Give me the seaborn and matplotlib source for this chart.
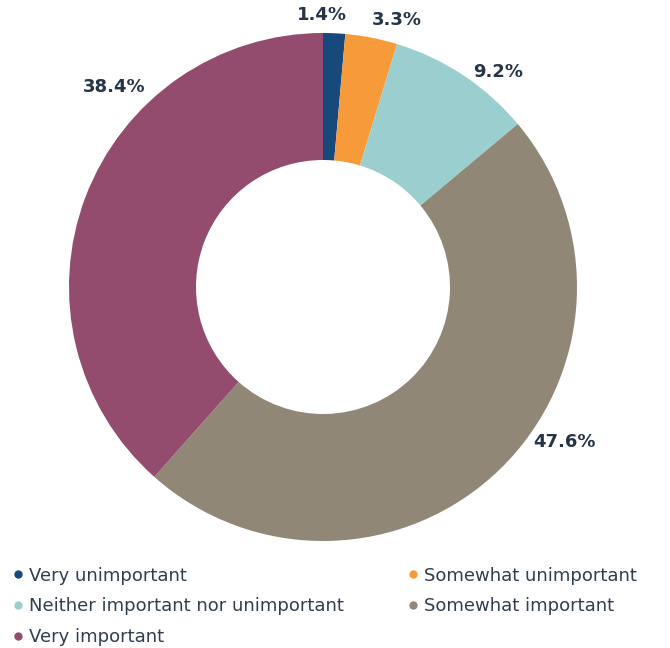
import matplotlib
matplotlib.use("Agg")
import matplotlib.pyplot as plt
from matplotlib.lines import Line2D
import numpy as np
import seaborn as sns

# Survey response shares (%)
categories = ["Very unimportant", "Somewhat unimportant",
              "Neither important nor unimportant", "Somewhat important",
              "Very important"]
shares = [1.4, 3.3, 9.2, 47.6, 38.4]
colors = ["#17497c", "#f79a3a", "#9bcfcf", "#918777", "#934c6e"]

# Label placement around the ring: (angle offset from wedge middle in degrees, radius)
label_nudge = [(2.7, 1.07), (-4.5, 1.09), (-5.6, 1.09), (13.2, 1.13), (-23.0, 1.14)]

sns.set_theme(style="white")
plt.rcParams["font.family"] = ["DejaVu Sans"]
text_color = "#253447"

fig = plt.figure(figsize=(6.70, 6.48), dpi=100)
ax = fig.add_axes([69 / 670, 1 - 541 / 648, 508 / 670, 508 / 648])

wedges, _ = ax.pie(shares, colors=colors, startangle=90, counterclock=False,
                   radius=1.0, wedgeprops=dict(width=0.5, edgecolor="none"))
ax.set_xlim(-1, 1)
ax.set_ylim(-1, 1)
ax.set_aspect("equal")
ax.axis("off")

for w, val, (da, r) in zip(wedges, shares, label_nudge):
    mid = (w.theta1 + w.theta2) / 2 + da
    x, y = r * np.cos(np.radians(mid)), r * np.sin(np.radians(mid))
    ax.text(x, y, f"{val:.1f}%", ha="center", va="center", fontsize=13,
            fontweight="bold", color=text_color, clip_on=False)

handles = [Line2D([], [], marker="o", linestyle="none", markersize=5,
                  markerfacecolor=c, markeredgecolor=c) for c in colors]
order = [0, 2, 4, 1, 3]
fig.legend([handles[i] for i in order], [categories[i] for i in order],
           ncol=2, loc="upper left", bbox_to_anchor=(0.0, 1 - 554 / 648),
           frameon=False, fontsize=13, labelcolor="#303e50",
           handlelength=0.6, handletextpad=0.3, columnspacing=3.55,
           labelspacing=0.7, borderaxespad=0.3)

fig.savefig("out.png", dpi=100, facecolor="white")
